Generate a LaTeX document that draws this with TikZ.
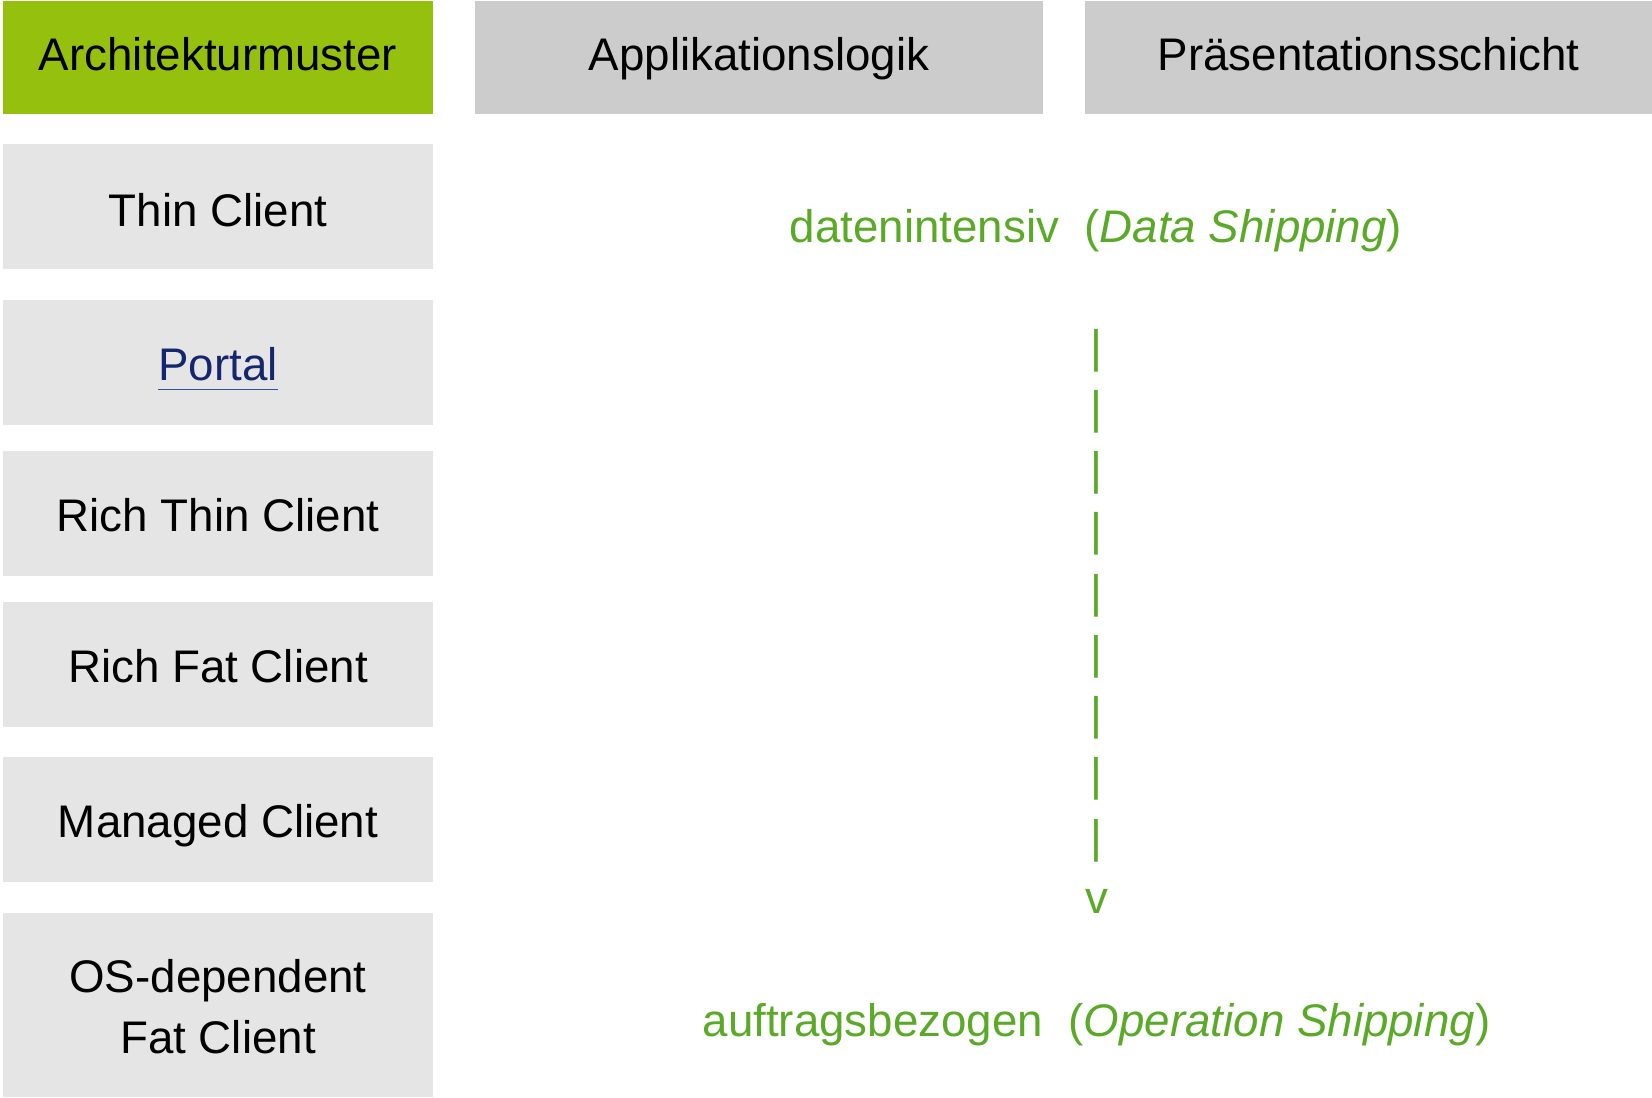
\documentclass[tikz,border=0pt]{standalone}
\usepackage{fontspec}
\setmainfont{Liberation Sans}

\definecolor{hdrgreen}{RGB}{150,192,14}
\definecolor{hdrgray}{RGB}{204,204,204}
\definecolor{rowgray}{RGB}{229,229,229}
\definecolor{notegreen}{RGB}{90,170,40}
\definecolor{linkblue}{RGB}{22,38,110}
\definecolor{lineblue}{RGB}{50,80,160}

\begin{document}
\begin{tikzpicture}[x=0.6pt,y=-0.6pt,
  cellbox/.style n args={3}{fill=#1, draw=none, inner sep=0pt, anchor=north west,
    minimum width=#2*0.6pt, minimum height=#3*0.6pt},
  txt/.style={inner sep=0pt, anchor=base, font=\fontsize{27.42}{36.75}\selectfont},
  note/.style={txt, text=notegreen}
]
% page frame
\useasboundingbox (0,0) rectangle (1652,1097);

% header row
\node[cellbox={hdrgreen}{430}{113}] (archbox)  at (3,1) {};
\node[cellbox={hdrgray}{568}{113}]  (applbox)  at (475,1) {};
\node[cellbox={hdrgray}{567}{113}]  (praesbox) at (1085,1) {};
\node[txt] (archtxt)  at (218,70)    {Architekturmuster};
\node[txt] (appltxt)  at (759,70)    {Applikationslogik};
\node[txt] (praestxt) at (1368.5,70) {Präsentationsschicht};

% pattern rows
\node[cellbox={rowgray}{430}{125}] (thinbox)     at (3,144) {};
\node[cellbox={rowgray}{430}{125}] (portalbox)   at (3,300) {};
\node[cellbox={rowgray}{430}{125}] (richthinbox) at (3,451) {};
\node[cellbox={rowgray}{430}{125}] (richfatbox)  at (3,602) {};
\node[cellbox={rowgray}{430}{125}] (managedbox)  at (3,757) {};
\node[cellbox={rowgray}{430}{184}] (osbox)       at (3,913) {};

\node[txt] (thintxt)     at (218,226) {Thin Client};
\node[txt, text=linkblue] (portaltxt) at (218,380) {Portal};
\draw[lineblue, line width=0.6pt]
  ([yshift=-5.4pt]portaltxt.base west) -- ([yshift=-5.4pt]portaltxt.base east);
\node[txt] (richthintxt) at (218,531) {Rich Thin Client};
\node[txt] (richfattxt)  at (218,682) {Rich Fat Client};
\node[txt] (managedtxt)  at (218,837) {Managed Client};
\node[txt] (ostxt)       at (218,992)
  {\begin{tabular}[t]{@{}c@{}}OS-dependent\\Fat Client\end{tabular}};

% shipping scale
\node[note] (datatxt) at (1096,242)
  {datenintensiv\ \ (\textit{Data Shipping})};
\node[note] (scale) at (1096.7,362)
  {\begin{tabular}[t]{@{}c@{}}|\\|\\|\\|\\|\\|\\|\\|\\|\\v\end{tabular}};
\node[note] (optxt) at (1096.5,1036)
  {auftragsbezogen\ \ (\textit{Operation Shipping})};
\end{tikzpicture}
\end{document}
